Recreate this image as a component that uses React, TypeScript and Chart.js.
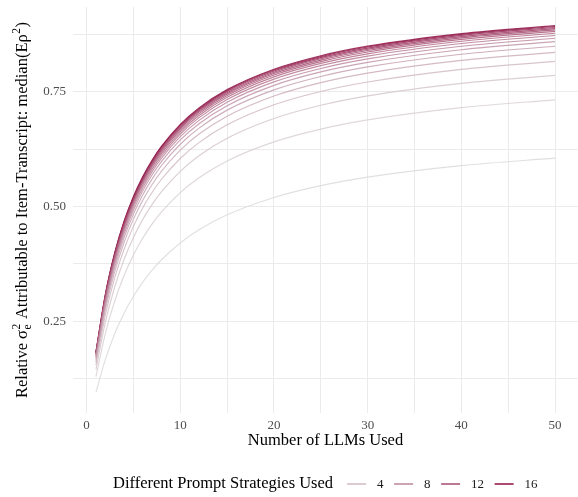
import { useEffect, useRef } from "react";
import { Chart, registerables } from "chart.js";

Chart.register(...registerables);

// ---- data ----
const llmCounts = [1, 2, 3, 4, 5, 6, 7, 8, 10, 12, 15, 20, 25, 30, 40, 50];
const promptCounts = [1, 2, 3, 4, 5, 6, 7, 8, 9, 10, 11, 12, 13, 14, 15, 16];

const p1 = [0.0949, 0.1665, 0.2226, 0.2676, 0.3045, 0.3354, 0.3616, 0.3841, 0.4207, 0.4493, 0.482, 0.5199, 0.5456, 0.5642, 0.5893, 0.6055];
const p2 = [0.1293, 0.223, 0.294, 0.3497, 0.3945, 0.4313, 0.4622, 0.4884, 0.5305, 0.5628, 0.5994, 0.641, 0.6689, 0.6889, 0.7156, 0.7326];
const p3 = [0.1444, 0.2474, 0.3247, 0.3847, 0.4328, 0.4721, 0.5048, 0.5325, 0.5768, 0.6107, 0.6488, 0.6919, 0.7207, 0.7413, 0.7686, 0.7861];
const p4 = [0.1544, 0.2634, 0.3444, 0.407, 0.4568, 0.4974, 0.5311, 0.5595, 0.6048, 0.6394, 0.6781, 0.7218, 0.7509, 0.7715, 0.7991, 0.8165];
const p5 = [0.1612, 0.274, 0.3575, 0.4217, 0.4726, 0.514, 0.5482, 0.5771, 0.6231, 0.658, 0.697, 0.741, 0.7702, 0.7909, 0.8185, 0.836];
const p6 = [0.166, 0.2816, 0.3668, 0.432, 0.4837, 0.5256, 0.5603, 0.5895, 0.6358, 0.671, 0.7102, 0.7544, 0.7836, 0.8044, 0.832, 0.8495];
const p7 = [0.1697, 0.2873, 0.3737, 0.4398, 0.492, 0.5343, 0.5692, 0.5986, 0.6452, 0.6806, 0.72, 0.7642, 0.7935, 0.8143, 0.8419, 0.8594];
const p8 = [0.1725, 0.2917, 0.379, 0.4457, 0.4984, 0.5409, 0.5761, 0.6057, 0.6524, 0.6879, 0.7274, 0.7718, 0.801, 0.8218, 0.8494, 0.8669];
const p9 = [0.1748, 0.2952, 0.3833, 0.4505, 0.5035, 0.5463, 0.5816, 0.6112, 0.6582, 0.6938, 0.7334, 0.7778, 0.8071, 0.8279, 0.8554, 0.8729];
const p10 = [0.1766, 0.2981, 0.3868, 0.4544, 0.5076, 0.5506, 0.5861, 0.6158, 0.6629, 0.6985, 0.7382, 0.7826, 0.812, 0.8328, 0.8603, 0.8777];
const p11 = [0.1782, 0.3005, 0.3897, 0.4576, 0.5111, 0.5542, 0.5898, 0.6196, 0.6668, 0.7025, 0.7422, 0.7867, 0.816, 0.8368, 0.8643, 0.8818];
const p12 = [0.1795, 0.3025, 0.3922, 0.4603, 0.514, 0.5572, 0.5929, 0.6227, 0.67, 0.7058, 0.7455, 0.79, 0.8193, 0.8401, 0.8677, 0.885];
const p13 = [0.1806, 0.3043, 0.3942, 0.4627, 0.5164, 0.5598, 0.5955, 0.6255, 0.6728, 0.7086, 0.7483, 0.7929, 0.8222, 0.843, 0.8705, 0.8879];
const p14 = [0.1816, 0.3058, 0.3961, 0.4647, 0.5186, 0.562, 0.5978, 0.6278, 0.6752, 0.711, 0.7509, 0.7954, 0.8247, 0.8455, 0.8731, 0.8904];
const p15 = [0.1824, 0.3071, 0.3977, 0.4665, 0.5205, 0.564, 0.5999, 0.6299, 0.6774, 0.7132, 0.753, 0.7976, 0.8269, 0.8477, 0.8752, 0.8926];
const p16 = [0.1832, 0.3083, 0.3991, 0.468, 0.5221, 0.5657, 0.6016, 0.6317, 0.6792, 0.7151, 0.7549, 0.7994, 0.8288, 0.8496, 0.8771, 0.8945];

const seriesValues = [p1, p2, p3, p4, p5, p6, p7, p8, p9, p10, p11, p12, p13, p14, p15, p16];

const xTickLabels = ["0", "10", "20", "30", "40", "50"];
const yTickLabels = ["0.25", "0.50", "0.75"];
const legendShown = [4, 8, 12, 16];

const xTitle = "Number of LLMs Used";
const legendTitle = "Different Prompt Strategies Used";

// ---- style ----
const FONT = '"Liberation Serif", "Times New Roman", serif';
const LOW = [220, 216, 218];
const HIGH = [140, 10, 62];

function colorFor(i: number, n: number): string {
  const t = Math.pow(i / (n - 1), 1.15);
  const c = LOW.map((l, k) => Math.round(l + (HIGH[k] - l) * t));
  return `rgba(${c[0]},${c[1]},${c[2]},0.82)`;
}

const textPlugin = {
  id: "textPlugin",
  afterDraw(chart: any) {
    const ctx = chart.ctx as CanvasRenderingContext2D;
    const ca = chart.chartArea;
    const big = `16.5px ${FONT}`;
    const small = `11.5px ${FONT}`;

    // Y title with super/subscripts
    ctx.save();
    ctx.translate(27, (ca.top + ca.bottom) / 2);
    ctx.rotate(-Math.PI / 2);
    ctx.fillStyle = "#000";
    ctx.textBaseline = "alphabetic";
    ctx.textAlign = "left";
    type Seg = { t: string; f: string; dy: number; sub?: string };
    const segs: Seg[] = [
      { t: "Relative ", f: big, dy: 0 },
      { t: "σ", f: big, dy: 0 },
      { t: "2", f: small, dy: -7, sub: "e" },
      { t: " Attributable to Item-Transcript: median(Eρ", f: big, dy: 0 },
      { t: "2", f: small, dy: -7 },
      { t: ")", f: big, dy: 0 },
    ];
    const widths = segs.map((s) => {
      ctx.font = s.f;
      let w = ctx.measureText(s.t).width;
      if (s.sub) w = Math.max(w, ctx.measureText(s.sub).width);
      return w + (s.f === small ? 1 : 0);
    });
    const total = widths.reduce((a, b) => a + b, 0);
    let cx = -total / 2;
    segs.forEach((s, i) => {
      ctx.font = s.f;
      ctx.fillText(s.t, cx + (s.f === small ? 0.5 : 0), s.dy);
      if (s.sub) ctx.fillText(s.sub, cx + 0.5, 4);
      cx += widths[i];
    });
    ctx.restore();

    // X title
    ctx.save();
    ctx.font = big;
    ctx.fillStyle = "#000";
    ctx.textAlign = "center";
    ctx.textBaseline = "middle";
    ctx.fillText(xTitle, (ca.left + ca.right) / 2, 441);
    ctx.restore();

    // Legend
    ctx.save();
    const ly = 484;
    ctx.font = big;
    ctx.fillStyle = "#000";
    ctx.textAlign = "left";
    ctx.textBaseline = "middle";
    ctx.fillText(legendTitle, 113, ly);
    let cur = 113 + ctx.measureText(legendTitle).width + 14;
    ctx.font = `13px ${FONT}`;
    legendShown.forEach((p) => {
      const ds = chart.data.datasets[promptCounts.indexOf(p)];
      ctx.strokeStyle = ds.borderColor;
      ctx.lineWidth = 1.8;
      ctx.beginPath();
      ctx.moveTo(cur, ly);
      ctx.lineTo(cur + 19, ly);
      ctx.stroke();
      cur += 19 + 11;
      ctx.fillStyle = "#1a1a1a";
      const lab = String(p);
      ctx.fillText(lab, cur, ly + 0.5);
      cur += ctx.measureText(lab).width + 10.5;
    });
    ctx.restore();
  },
};

export default function App() {
  const canvasRef = useRef<HTMLCanvasElement | null>(null);

  useEffect(() => {
    if (!canvasRef.current) return;
    const n = seriesValues.length;
    const datasets = seriesValues.map((vals, i) => ({
      label: String(promptCounts[i]),
      data: llmCounts.map((x, j) => ({ x, y: vals[j] })),
      borderColor: colorFor(i, n),
      borderWidth: 1.15,
      pointRadius: 0,
      pointHoverRadius: 0,
      cubicInterpolationMode: "monotone" as const,
      fill: false,
    }));

    const chart = new Chart(canvasRef.current, {
      type: "line",
      data: { datasets },
      options: {
        animation: false,
        responsive: false,
        layout: { padding: { top: 7, right: 0, left: 0, bottom: 0 } },
        plugins: {
          legend: { display: false },
          tooltip: { enabled: false },
        },
        scales: {
          x: {
            type: "linear",
            min: -1.45,
            max: 52.45,
            border: { display: false },
            grid: { color: "#ebebeb", lineWidth: 1, drawTicks: false },
            ticks: {
              stepSize: 5,
              includeBounds: false,
              autoSkip: false,
              maxRotation: 0,
              padding: 5,
              color: "#4d4d4d",
              font: { family: FONT, size: 13 },
              callback: (v: any) => {
                const s = String(Math.round(Number(v)));
                return Number(v) % 10 === 0 && xTickLabels.includes(s) ? s : "";
              },
            },
            afterFit: (s: any) => {
              s.height = 84;
              s.paddingLeft = 0;
              s.paddingRight = 0;
            },
          },
          y: {
            type: "linear",
            min: 0.05,
            max: 0.935,
            border: { display: false },
            grid: { color: "#ebebeb", lineWidth: 1, drawTicks: false },
            ticks: {
              stepSize: 0.125,
              includeBounds: false,
              autoSkip: false,
              padding: 7,
              color: "#4d4d4d",
              font: { family: FONT, size: 13 },
              callback: (v: any) => {
                const s = Number(v).toFixed(2);
                return yTickLabels.includes(s) ? s : "";
              },
            },
            afterFit: (s: any) => {
              s.width = 73;
              s.paddingTop = 0;
              s.paddingBottom = 0;
            },
          },
        },
      },
      plugins: [textPlugin],
    });
    return () => chart.destroy();
  }, []);

  return (
    <div style={{ position: "absolute", left: 0, top: 0, width: 578, height: 497, background: "#fff" }}>
      <canvas ref={canvasRef} width={578} height={497} style={{ display: "block" }} />
    </div>
  );
}
